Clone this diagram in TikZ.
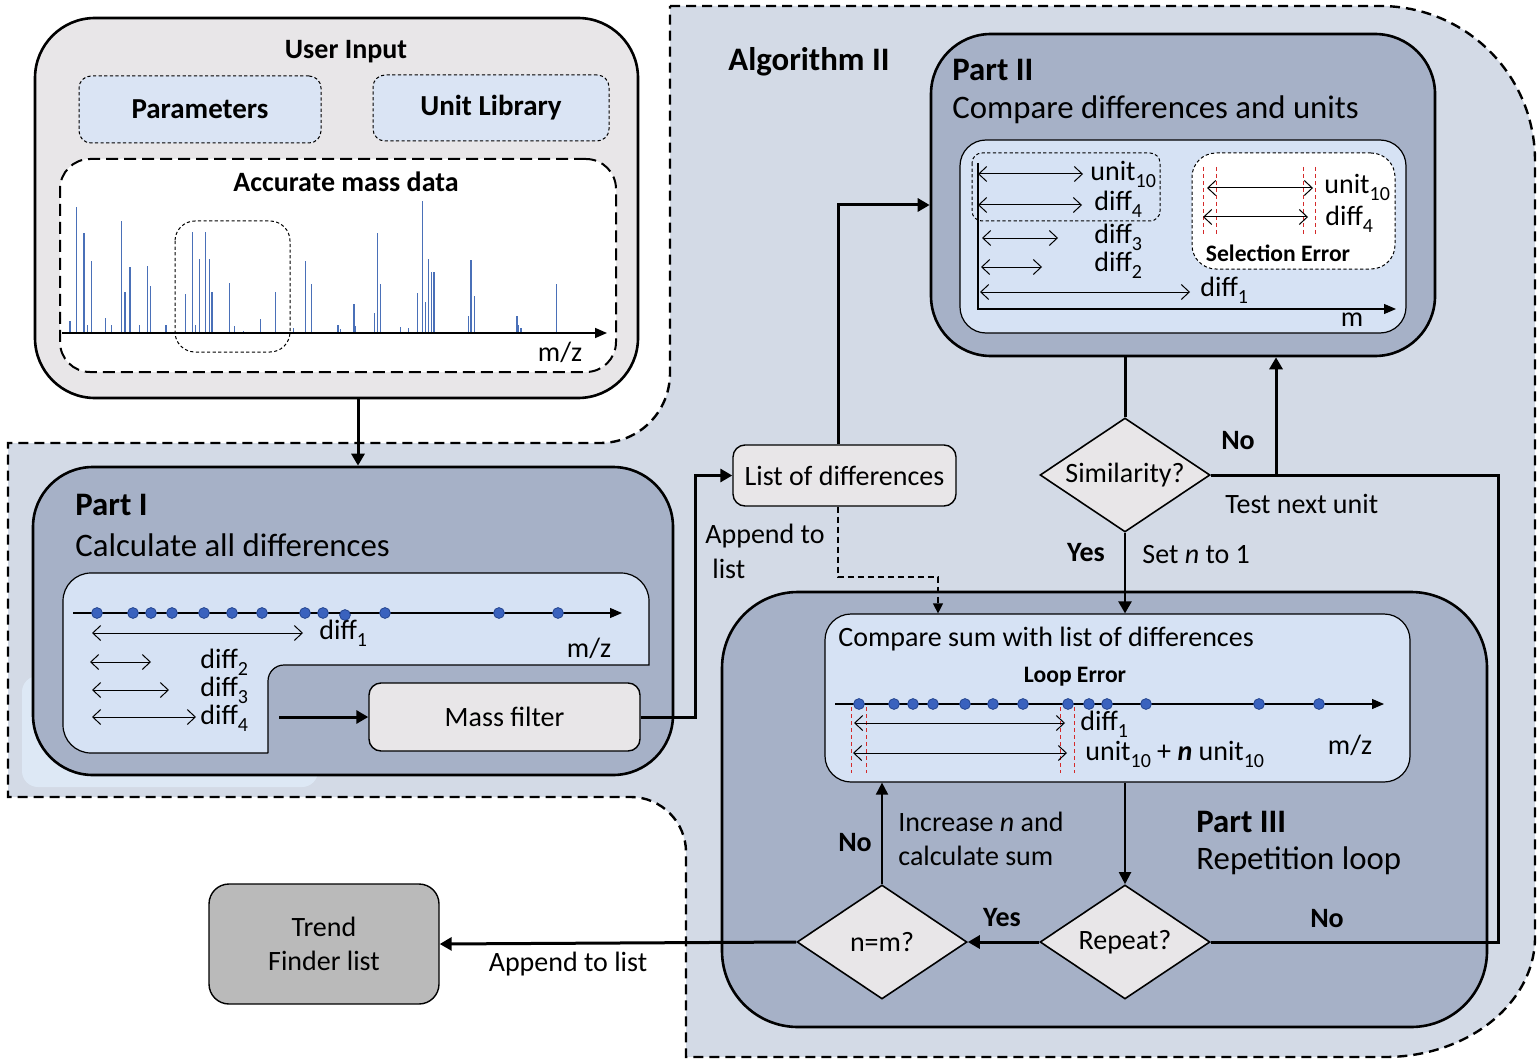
\documentclass[tikz,border=0pt]{standalone}
\usepackage{fontspec}
\setmainfont{Carlito}
\usetikzlibrary{arrows.meta,shapes.geometric}
\definecolor{bgc}{HTML}{D3DAE6}
\definecolor{partc}{HTML}{A6B1C7}
\definecolor{innerc}{HTML}{D6E2F4}
\definecolor{grayc}{HTML}{E8E6E8}
\definecolor{paramc}{HTML}{DAE4F4}
\definecolor{trendc}{HTML}{BABABA}
\definecolor{peakc}{HTML}{4A70B8}
\definecolor{dotc}{HTML}{3A62BE}
\definecolor{dotline}{HTML}{24448E}
\definecolor{redc}{HTML}{D42A2A}
\definecolor{paleb}{HTML}{DDE8F5}
\newcommand{\lsub}[1]{\raisebox{-3.5pt}{\fontsize{10}{11}\selectfont #1}}
\begin{document}
\begin{tikzpicture}[x=0.5pt,y=-0.5pt,
  bigt/.style={font=\fontsize{16.4}{19}\selectfont, inner sep=0pt},
  bigb/.style={font=\fontsize{16.4}{19}\selectfont\bfseries, inner sep=0pt},
  txt/.style={font=\fontsize{14}{16}\selectfont, inner sep=0pt},
  txtb/.style={font=\fontsize{14}{16}\selectfont\bfseries, inner sep=0pt},
  tinyb/.style={font=\fontsize{11.8}{13}\selectfont\bfseries, inner sep=0pt},
  partbox/.style={draw, line width=1.3pt, fill=partc, rounded corners=30pt},
  innerbox/.style={draw, line width=0.6pt, fill=innerc, rounded corners=13pt},
  graybox/.style={draw, line width=0.7pt, fill=grayc, rounded corners=6pt, font=\fontsize{14}{16}\selectfont},
  decision/.style={diamond, draw, line width=0.8pt, fill=grayc, shape aspect=1.5, minimum width=85pt, minimum height=57pt, inner sep=0pt, font=\fontsize{14}{16}\selectfont},
  fine dashed/.style={dash pattern=on 1.6pt off 1.2pt, line width=0.5pt},
  conn/.style={line width=1.5pt},
  arr/.style={line width=1.5pt, -{Triangle[length=6pt,width=6.5pt]}},
  arrthin/.style={line width=1pt, -{Triangle[length=6pt,width=6pt]}},
  darr/.style={line width=0.5pt, {Straight Barb[length=4pt,width=7.5pt]}-{Straight Barb[length=4pt,width=7.5pt]}},
  axis/.style={line width=0.6pt, -{Triangle[length=6pt,width=5pt]}},
  reddash/.style={draw=redc, line width=0.5pt, dash pattern=on 2pt off 1.5pt},
  dotm/.style={fill=dotc, draw=dotline, line width=0.4pt},
  peak/.style={draw=peakc, line width=0.6pt}
]
\useasboundingbox (0,0) rectangle (1540,1064);

% background region of Algorithm II
\draw[fill=bgc, line width=1.2pt, dash pattern=on 5pt off 3pt]
  (670,6) -- (1380,6) .. controls (1466,6) and (1535,75) .. (1535,161)
  -- (1535,937) .. controls (1535,1003) and (1468,1057) .. (1385,1057)
  -- (686,1057) -- (686,852) .. controls (686,822) and (661,797) .. (631,797)
  -- (8,797) -- (8,443) -- (600,443) .. controls (639,443) and (670,412) .. (670,373)
  -- cycle;

% ---------- User input ----------
\node[draw, line width=1.3pt, fill=grayc, rounded corners=30pt, minimum width=301.5pt, minimum height=190pt] (ui) at (336.5,208) {};
\node[txtb] (uit) at (346,52) {User Input};
\node[draw, fine dashed, fill=paramc, rounded corners=6pt, minimum width=121pt, minimum height=33.5pt, txtb, font=\fontsize{14.5}{16}\selectfont\bfseries] (params) at (200,109.5) {\raisebox{-2pt}{Parameters}};
\node[draw, fine dashed, fill=paramc, rounded corners=6pt, minimum width=118pt, minimum height=33pt, txtb, font=\fontsize{14.5}{16}\selectfont\bfseries] (unitlib) at (491,108) {Unit Library};
\node[draw, line width=1pt, dash pattern=on 6pt off 3pt, fill=white, rounded corners=15pt, minimum width=278pt, minimum height=106.5pt] (acc) at (338,265.5) {};
\node[txtb] (acct) at (346,182) {Accurate mass data};
\begin{scope}[xscale=0.44643, yscale=0.33333]
\foreach \a/\b in {157/962, 172/620, 188/700, 196/975, 205/783, 237/953, 250/975, 272/663, 280/877, 291/800, 313/975, 330/798, 338/857, 372/975, 416/882, 432/695, 438/975, 447/778, 461/695, 469/778, 475/877, 514/850, 526/978, 546/993, 584/957, 618/877, 657/985, 685/783, 697/852, 698/975, 757/975, 762/988, 793/913, 797/978, 838/940, 845/700, 853/852, 898/982, 915/985, 935/880, 947/603, 954/907, 960/778, 966/815, 972/815, 1050/948, 1055/780, 1063/887, 1158/948, 1162/975, 1167/985, 1246/852}
  \draw[peak] (\a,1000) -- (\a,\b);
\end{scope}
\draw[axis, line width=0.8pt] (62,333) -- (607,333);
\draw[fine dashed, rounded corners=10pt] (175,221) rectangle (290,352);
\node[txt] (mz0) at (560,352) {m/z};

% ---------- Part I ----------
\fill[paleb, rounded corners=8pt] (22,676) rectangle (318,787);
\node[partbox, minimum width=320pt, minimum height=154pt] (part1) at (353,621) {};
\coordinate (cx0) at (358,0);
\draw[arr] (cx0 |- ui.south) -- (cx0 |- part1.north);
\node[bigb, anchor=west] (p1t) at (75,505) {Part I};
\node[bigt, anchor=west] (p1s) at (75,545) {Calculate all differences};
\draw[fill=innerc, line width=0.6pt, rounded corners=14pt]
  (268,753) -- (63,753) -- (63,573) -- (649,573) [sharp corners] -- (649,665) [rounded corners=8pt] -- (268,665) [sharp corners] -- (268,753);
\draw[axis] (73,613) -- (622,613);
\foreach \x in {97,133,151,172,204,232,262,305,323,385,499,558} \draw[dotm] (\x,613) circle (2.7pt);
\draw[dotm] (345,615) circle (2.7pt);
\draw[darr] (92,633) -- (303,633);
\node[txt, anchor=west] at (319,633) {diff\lsub{1}};
\node[txt] at (589,648) {m/z};
\draw[darr] (90,662) -- (151,662);
\node[txt, anchor=west] at (200,662) {diff\lsub{2}};
\draw[darr] (92,690) -- (169,690);
\node[txt, anchor=west] at (200,690) {diff\lsub{3}};
\draw[darr] (92,717) -- (196,717);
\node[txt, anchor=west] at (200,718) {diff\lsub{4}};
\node[graybox, minimum width=135.5pt, minimum height=34pt] (massf) at (504.5,717) {Mass filter};
\coordinate (notch) at (279,717);
\draw[arr] (notch) -- (massf.west);

% ---------- List of differences ----------
\node[graybox, minimum width=111.5pt, minimum height=30.5pt] (listd) at (844.5,475.5) {List of differences};
\coordinate (cx1) at (695,0);
\draw[arr] (massf.east) -- (massf.east -| cx1) |- (listd.west);
\node[txt, anchor=west] at (705,536) {Append to};
\node[txt, anchor=west] at (712,569) {list};

% ---------- Part II ----------
\node[bigb, anchor=west] (alg) at (728,62) {Algorithm II};
\node[partbox, minimum width=252pt, minimum height=161pt] (part2) at (1183,195) {};
\node[bigb, anchor=west] at (952,70) {Part II};
\node[bigt, anchor=west] at (952,110) {Compare differences and units};
\node[innerbox, minimum width=223pt, minimum height=96.5pt] (p2in) at (1183,236.5) {};
\draw[fine dashed, rounded corners=5pt] (972,153) rectangle (1160,221);
\node[draw, fine dashed, fill=white, rounded corners=12pt, minimum width=101.5pt, minimum height=58pt] (selerr) at (1293.5,211) {};
\draw[axis] (978,163) -- (978,309) -- (1396,309);
\node[txt] at (1352,320) {m};
\draw[darr] (978,174) -- (1083,174);
\node[txt, anchor=west] at (1090,174) {unit\lsub{10}};
\draw[darr] (978,205) -- (1082,205);
\node[txt, anchor=west] at (1094,204) {diff\lsub{4}};
\draw[darr] (982,238) -- (1058,238);
\node[txt, anchor=west] at (1094,237) {diff\lsub{3}};
\draw[darr] (981,267) -- (1042,267);
\node[txt, anchor=west] at (1094,265) {diff\lsub{2}};
\draw[darr] (980,292) -- (1190,292);
\node[txt, anchor=west] at (1200,290) {diff\lsub{1}};
\foreach \x in {1203,1216,1303,1315} \draw[reddash] (\x,167) -- (\x,235);
\draw[darr] (1207,188) -- (1313,188);
\node[txt, anchor=west] at (1324,187) {unit\lsub{10}};
\draw[darr] (1203,217) -- (1308,217);
\node[txt, anchor=west] at (1325,219) {diff\lsub{4}};
\node[tinyb] at (1278,253) {Selection Error};

\coordinate (cx2) at (838,0);
\coordinate (cy2) at (0,205);
\draw[arr] (cx2 |- listd.north) -- (cx2 |- cy2) -- (part2.west |- cy2);

% ---------- Similarity ----------
\node[decision] (sim) at (1125,475) {Similarity?};
\draw[conn] (sim.north |- part2.south) -- (sim.north);
\node[txtb] at (1238,441) {No};
\node[txt, anchor=west] at (1225,504) {Test next unit};
\node[txtb] at (1086,553) {Yes};
\node[txt, anchor=west] at (1142,555) {Set \textit{n} to 1};

% ---------- Part III ----------
\node[partbox, rounded corners=38pt, minimum width=382.5pt, minimum height=217.5pt] (part3) at (1104.5,809.5) {};
\node[innerbox, minimum width=292.5pt, minimum height=84pt] (p3in) at (1117.5,698) {};
\node[txt, anchor=west] at (838,639) {Compare sum with list of differences};
\node[tinyb] at (1075,677) {Loop Error};
\draw[axis] (835,704) -- (1384,704);
\foreach \x in {859,894,913,933,965,993,1023,1068,1089,1107,1146,1259,1319} \draw[dotm] (\x,704) circle (2.7pt);
\foreach \x in {851,866,1060,1074} \draw[reddash] (\x,707) -- (\x,773);
\draw[darr] (854,723) -- (1065,723);
\node[txt, anchor=west] at (1080,724) {diff\lsub{1}};
\draw[darr] (853,753) -- (1067,753);
\node[txt, anchor=west] at (1085,754) {unit\lsub{10} + \textbf{\textit{n}} unit\lsub{10}};
\node[txt] at (1350,745) {m/z};
\node[bigb, anchor=west] at (1196,822) {Part III};
\node[bigt, anchor=west] at (1196,861) {Repetition loop};

\draw[arr, line width=1.2pt] (sim.south) -- (sim.south |- p3in.north);
\coordinate (cx3) at (938,0);
\coordinate (cy3) at (0,577);
\draw[line width=0.6pt, dash pattern=on 3pt off 2pt, -{Triangle[length=5pt,width=5pt]}] (cx2 |- listd.south) -- (cx2 |- cy3) -- (cx3 |- cy3) -- (cx3 |- p3in.north);

\node[decision] (rep) at (1125,942) {Repeat?};
\node[decision] (nm) at (882,942) {n=m?};
\draw[arrthin] (rep.north |- p3in.south) -- (rep.north);
\draw[arr] (rep.west) -- (nm.east);
\draw[arrthin] (nm.north) -- (nm.north |- p3in.south);
\node[txtb] at (1002,918) {Yes};
\node[txtb] at (1327,919) {No};
\node[txtb] at (855,843) {No};
\node[txt, anchor=west] at (898,822) {Increase \textit{n} and};
\node[txt, anchor=west] at (898,856) {calculate sum};

\coordinate (cx4) at (1498,0);
\coordinate (cx5) at (1276,0);
\draw[conn] (rep.east) -- (cx4 |- rep.east) -- (cx4 |- sim.east) -- (sim.east);
\draw[arr] (cx5 |- sim.east) -- (cx5 |- part2.south);

% ---------- Trend Finder list ----------
\node[draw, line width=0.7pt, fill=trendc, rounded corners=10pt, minimum width=115pt, minimum height=60pt, align=center, font=\fontsize{14}{17}\selectfont] (trend) at (324,944) {Trend\\Finder list};
\draw[arr] (nm.west) -- (trend.east);
\node[txt] at (568,964) {Append to list};
\end{tikzpicture}
\end{document}
